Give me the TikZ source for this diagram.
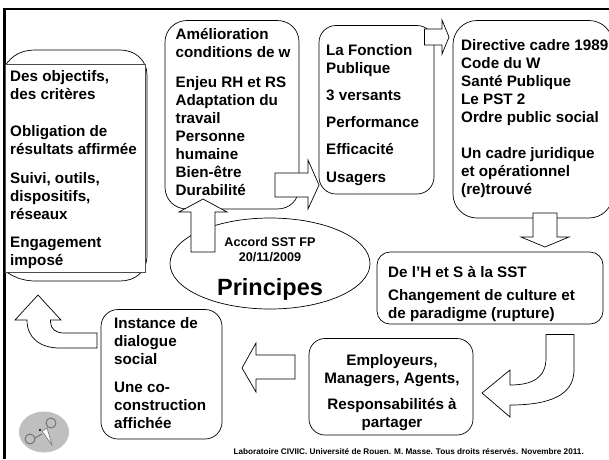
\documentclass[tikz,border=0pt]{standalone}
\usepackage{fontspec}
\setmainfont{Liberation Sans}
\begin{document}
\begin{tikzpicture}[x=1pt,y=-1pt,
  card/.style={draw=black,line width=0.7pt,fill=white},
  blockarrow/.style={draw=black,line width=0.7pt,fill=white,line join=miter},
  body/.style={font=\fontsize{15.2}{18}\selectfont\bfseries,align=left,inner sep=0pt,anchor=base west},
  bodyc/.style={font=\fontsize{15.2}{18}\selectfont\bfseries,align=center,inner sep=0pt,anchor=base},
]
\useasboundingbox (0,0) rectangle (609,459);
\fill[white] (0,0) rectangle (609,459);
% frame
\draw[line width=2.2pt,black] (4.5,459) -- (4.5,9) -- (609,9);
% left card
\draw[card] (5,66) .. controls (12,55) and (22,50) .. (35,50) -- (120,50) .. controls (135,50) and (147,60) .. (147,75) -- (147,255) .. controls (147,272) and (135,281) .. (120,281) -- (35,281) .. controls (22,281) and (12,276) .. (5,271);
\draw[card,draw=black!70] (5,64.5) rectangle (145,272);
% other cards
\draw[card] (165,42) .. controls (165,30) and (175,20.5) .. (187,20.5) -- (277,20.5) .. controls (290,20.5) and (299,30) .. (299,42) -- (299,187) .. controls (299,200) and (290,209) .. (277,209) -- (187,209) .. controls (175,209) and (165,200) .. (165,187) -- cycle;
\draw[card,rounded corners=17pt] (319,25.5) rectangle (434,194);
\draw[card,rounded corners=24pt] (453,20.5) rectangle (613,218);
\draw[card,rounded corners=13pt] (377,252) rectangle (603,324);
\draw[card,rounded corners=16pt] (309,338.5) rectangle (473,435);
\draw[card,rounded corners=17pt] (101,309.5) rectangle (222,439);
\draw[card] (270,263.5) ellipse [x radius=100,y radius=45.5];
% block arrows
\draw[blockarrow] (203,199) -- (227,212) -- (215,212) -- (215,252) -- (191,252) -- (191,212) -- (179,212) -- cycle;
\draw[blockarrow] (319,185) -- (308,209) -- (308,197) -- (275,197) -- (275,173) -- (308,173) -- (308,160) -- cycle;
\draw[blockarrow] (449,37) -- (442,54) -- (442,45) -- (424.5,45) -- (424.5,29) -- (442,29) -- (442,20) -- cycle;
\draw[blockarrow] (545,247) -- (569,237) -- (557,237) -- (557,213) -- (533,213) -- (533,237) -- (521,237) -- cycle;
\draw[blockarrow] (242,368) -- (256,343) -- (256,355) -- (295,355) -- (295,379) -- (256,379) -- (256,392) -- cycle;
\draw[blockarrow] (482,393) -- (510,370) -- (510,385) .. controls (532,385) and (546,378) .. (546,358) -- (546,334.5) -- (574,334.5) -- (574,370) .. controls (574,395) and (550,405) .. (510,405) -- (510,417) -- cycle;
\draw[blockarrow] (38,295) -- (61,320) -- (50.5,320) -- (50.5,322) .. controls (50.5,329) and (56,333) .. (64,333) -- (97,333) -- (97,348) -- (60,348) .. controls (40,348) and (27,338) .. (27,320) -- (15,320) -- cycle;
% logo
\fill[black!25] (44,432) ellipse [x radius=25,y radius=20.5];
\draw[black!60,line width=0.8pt] (51,423) circle (5);
\draw[black!60,line width=0.8pt] (30,439) circle (5);
\fill[white,draw=black!60,line width=0.5pt] (42,431) -- (47,428) -- (52,445) -- cycle;
\draw[black!60,line width=0.8pt] (35,438) -- (42,434);
\fill[black] (40,430) circle (1.1);
% texts
\node[body] (t1) at (10,265) {Des objectifs,\\des critères\\[19pt]Obligation de\\résultats affirmée\\[11pt]Suivi, outils,\\dispositifs,\\réseaux\\[10pt]Engagement\\imposé};
\node[body] (t2) at (175.5,195) {Amélioration\\conditions de w\\[12pt]Enjeu RH et RS\\Adaptation du\\travail\\Personne\\humaine\\Bien-être\\Durabilité};
\node[body] (t3) at (326,182) {La Fonction\\Publique\\[9pt]3 versants\\[9pt]Performance\\[9pt]Efficacité\\[10pt]Usagers};
\node[body] (t4) at (461,194) {Directive cadre 1989\\Code du W\\Santé Publique\\Le PST 2\\Ordre public social\\[18pt]Un cadre juridique\\et opérationnel\\(re)trouvé};
\node[body] (t5) at (388,318) {De l’H et S à la SST\\[5pt]Changement de culture et\\de paradigme (rupture)};
\node[bodyc] (t6) at (392,427) {Employeurs,\\Managers, Agents,\\[8pt]Responsabilités à\\partager};
\node[body] (t7) at (114,428) {Instance de\\dialogue\\social\\[10pt]Une co-\\construction\\affichée};
\node[font=\fontsize{12.6}{15}\selectfont\bfseries,align=center,inner sep=0pt,anchor=base] (t8) at (270,261) {Accord SST FP\\20/11/2009};
\node[font=\fontsize{23.5}{24}\selectfont\bfseries,inner sep=0pt,anchor=base] (t9) at (270,295) {Principes};
\node[font=\fontsize{8.2}{7}\selectfont\bfseries,inner sep=0pt,anchor=base east] (t10) at (584,454) {Laboratoire CIVIIC. Université de Rouen. M. Masse. Tous droits réservés. Novembre 2011.};
\end{tikzpicture}
\end{document}
